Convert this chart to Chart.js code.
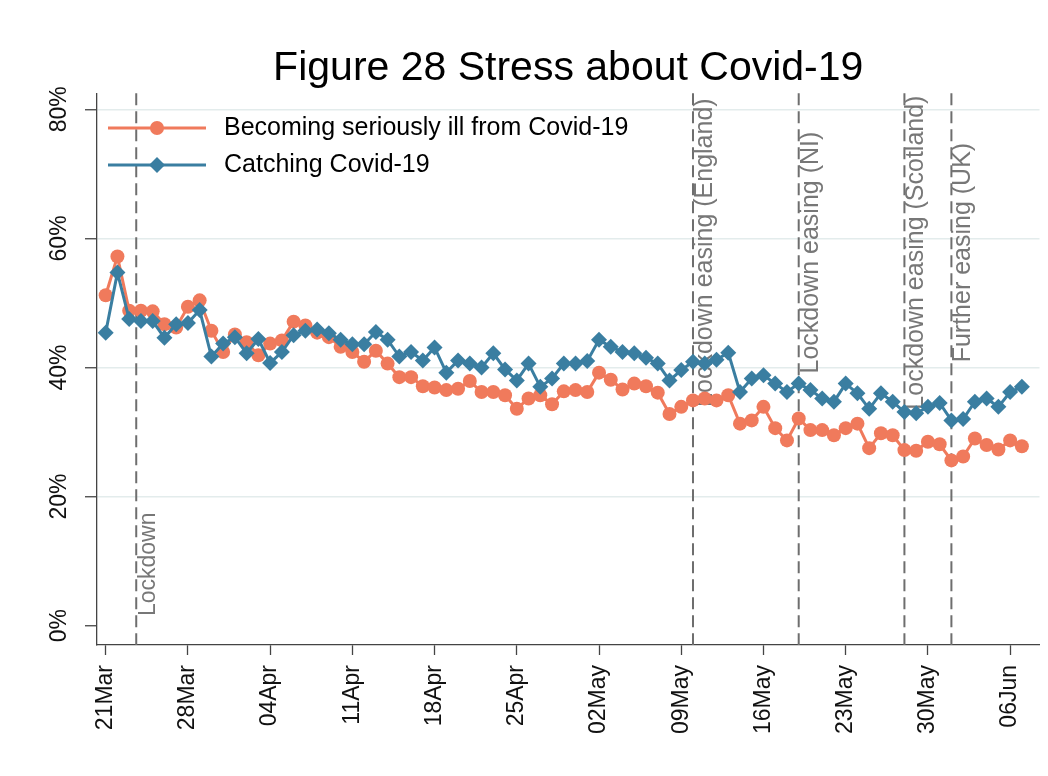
<!DOCTYPE html>
<html>
<head>
<meta charset="UTF-8">
<title>Figure 28 Stress about Covid-19</title>
<script src="https://cdn.jsdelivr.net/npm/chart.js@4.4.0/dist/chart.umd.min.js"></script>
<style>
  html, body { margin: 0; padding: 0; background: #fff; }
</style>
</head>
<body>
<canvas id="myChart" width="1048" height="776"></canvas>
<script>
// x axis: days since 21 March
const tickDays = [0, 7, 14, 21, 28, 35, 42, 49, 56, 63, 70, 77];
const tickLabels = ['21Mar', '28Mar', '04Apr', '11Apr', '18Apr', '25Apr', '02May', '09May', '16May', '23May', '30May', '06Jun'];
const yTicks = [0, 20, 40, 60, 80];

// daily shares (%), 21 Mar .. 07 Jun
const seriousIll = [
  51.2, 57.2, 48.8, 48.8, 48.7, 46.7, 46.2, 49.4, 50.4, 45.7,
  42.4, 45.1, 43.9, 41.9, 43.7, 44.2, 47.1, 46.5, 45.4, 44.7,
  43.2, 42.4, 40.9, 42.6, 40.6, 38.5, 38.5, 37.1, 36.9, 36.5,
  36.7, 37.9, 36.2, 36.2, 35.7, 33.6, 35.2, 35.7, 34.3, 36.3,
  36.5, 36.2, 39.2, 38.1, 36.6, 37.5, 37.1, 36.1, 32.8, 33.9,
  34.9, 35.2, 34.9, 35.7, 31.3, 31.8, 33.9, 30.6, 28.7, 32.1,
  30.3, 30.3, 29.5, 30.6, 31.3, 27.5, 29.8, 29.5, 27.2, 27.1,
  28.5, 28.1, 25.6, 26.2, 29.0, 28.0, 27.3, 28.7, 27.8
];
const catching = [
  45.4, 54.7, 47.5, 47.2, 47.2, 44.6, 46.7, 46.9, 48.9, 41.7,
  43.7, 44.7, 42.2, 44.4, 40.7, 42.4, 45.0, 45.7, 45.9, 45.3,
  44.3, 43.6, 43.6, 45.5, 44.3, 41.7, 42.4, 41.1, 43.1, 39.2,
  41.1, 40.6, 40.0, 42.2, 39.7, 38.0, 40.6, 37.0, 38.3, 40.6,
  40.6, 41.0, 44.3, 43.2, 42.4, 42.2, 41.5, 40.6, 38.0, 39.6,
  40.9, 40.6, 41.2, 42.3, 36.2, 38.3, 38.8, 37.5, 36.2, 37.5,
  36.5, 35.2, 34.7, 37.5, 36.0, 33.6, 36.0, 34.7, 33.1, 32.9,
  33.9, 34.5, 31.8, 32.0, 34.7, 35.2, 33.9, 36.2, 37.0
];

// policy events (days since 21 March)
const eventDays = [2.6, 50, 59, 68, 72];
const eventLabels = ['Lockdown', 'Lockdown easing (England)', 'Lockdown easing (NI)', 'Lockdown easing (Scotland)', 'Further easing (UK)'];

const orange = '#f07a5c';
const blue = '#3a7ea1';
const fontFamily = '"Liberation Sans", Arial, sans-serif';

const toPoints = arr => arr.map((v, i) => ({ x: i, y: v }));

// dashed event lines with vertical labels
const eventLines = {
  id: 'eventLines',
  beforeDatasetsDraw(chart) {
    const c = chart.ctx;
    const area = chart.chartArea;
    const xs = chart.scales.x, ys = chart.scales.y;
    c.save();
    eventDays.forEach((d, i) => {
      const px = xs.getPixelForValue(d);
      c.strokeStyle = '#6e6e6e';
      c.lineWidth = 2;
      c.setLineDash([12, 6]);
      c.beginPath();
      c.moveTo(px, area.top);
      c.lineTo(px, area.bottom);
      c.stroke();

      c.save();
      c.font = (i === 0 ? '23px ' : '25px ') + fontFamily;
      c.fillStyle = '#777777';
      c.textBaseline = 'middle';
      c.textAlign = 'center';
      // lockdown label sits low, the rest are centred high up
      const py = i === 0 ? ys.getPixelForValue(9.5) : ys.getPixelForValue(57.8);
      c.translate(px + 12, py);
      c.rotate(-Math.PI / 2);
      c.fillText(eventLabels[i], 0, 0);
      c.restore();
    });
    c.restore();
  }
};

// legend drawn inside the plot, top left
const insideLegend = {
  id: 'insideLegend',
  afterDatasetsDraw(chart) {
    const c = chart.ctx;
    c.save();
    chart.data.datasets.forEach((ds, i) => {
      const y = 128 + i * 37;
      c.strokeStyle = ds.borderColor;
      c.fillStyle = ds.backgroundColor;
      c.lineWidth = ds.borderWidth;
      c.beginPath();
      c.moveTo(108, y);
      c.lineTo(206, y);
      c.stroke();
      const r = ds.pointRadius;
      c.beginPath();
      if (ds.pointStyle === 'rectRot') {
        c.moveTo(157, y - r);
        c.lineTo(157 + r, y);
        c.lineTo(157, y + r);
        c.lineTo(157 - r, y);
        c.closePath();
      } else {
        c.arc(157, y, r, 0, Math.PI * 2);
      }
      c.fill();
      c.font = '25px ' + fontFamily;
      c.fillStyle = '#000';
      c.textBaseline = 'middle';
      c.textAlign = 'left';
      c.fillText(ds.label, 224, y);
    });
    c.restore();
  }
};

const ctx = document.getElementById('myChart').getContext('2d');
const chart = new Chart(ctx, {
  type: 'line',
  data: {
    datasets: [{
      label: 'Becoming seriously ill from Covid-19',
      data: toPoints(seriousIll),
      borderColor: orange,
      backgroundColor: orange,
      borderWidth: 3,
      pointStyle: 'circle',
      pointRadius: 7,
      pointBorderWidth: 0,
      pointHoverRadius: 7,
      order: 2
    }, {
      label: 'Catching Covid-19',
      data: toPoints(catching),
      borderColor: blue,
      backgroundColor: blue,
      borderWidth: 3,
      pointStyle: 'rectRot',
      pointRadius: 8,
      pointBorderWidth: 0,
      pointHoverRadius: 8,
      order: 1
    }]
  },
  options: {
    responsive: false,
    devicePixelRatio: 1,
    animation: false,
    layout: { padding: { left: 0, right: 8, top: 0, bottom: 0 } },
    plugins: {
      legend: { display: false },
      tooltip: { enabled: false },
      title: {
        display: true,
        fullSize: false,
        text: 'Figure 28 Stress about Covid-19',
        color: '#000',
        font: { family: fontFamily, size: 41, weight: 'normal' },
        padding: { top: 44, bottom: 0 }
      }
    },
    scales: {
      x: {
        type: 'linear',
        min: -0.74,
        max: 79.5,
        afterBuildTicks: s => { s.ticks = tickDays.map(v => ({ value: v })); },
        afterFit: s => { s.height = 776 - 645; },
        ticks: {
          autoSkip: false,
          minRotation: 90,
          maxRotation: 90,
          padding: 10,
          color: '#111',
          font: { family: fontFamily, size: 23 },
          callback: v => tickLabels[tickDays.indexOf(v)]
        },
        grid: { drawOnChartArea: false, tickLength: 10, tickColor: '#444', tickWidth: 1.3 },
        border: { color: '#444', width: 1.3 }
      },
      y: {
        min: -3,
        max: 82.5,
        afterBuildTicks: s => { s.ticks = yTicks.map(v => ({ value: v })); },
        afterFit: s => { s.width = 97; },
        ticks: {
          minRotation: 90,
          maxRotation: 90,
          crossAlign: 'center',
          padding: 2,
          color: '#111',
          font: { family: fontFamily, size: 23 },
          callback: v => v + '%'
        },
        grid: {
          color: c => (c.tick && c.tick.value === 0) ? 'rgba(0,0,0,0)' : '#e3ecec',
          lineWidth: 1.5,
          tickLength: 12,
          tickColor: '#444',
          tickWidth: 1.3
        },
        border: { color: '#444', width: 1.3 }
      }
    }
  },
  plugins: [eventLines, insideLegend]
});
</script>
</body>
</html>
